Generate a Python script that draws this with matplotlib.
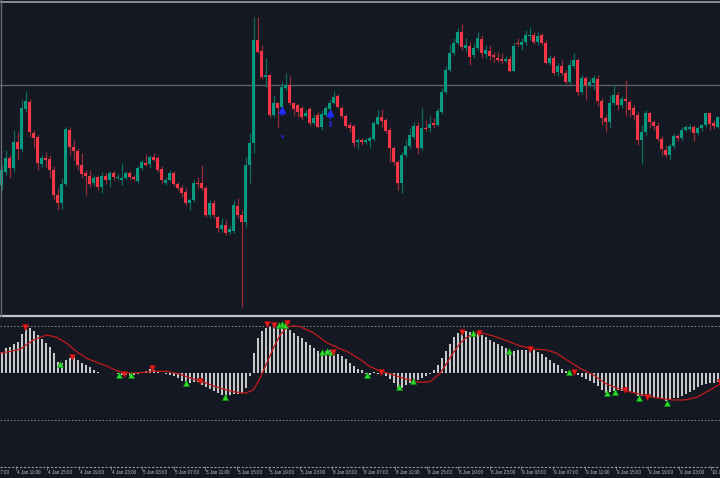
import matplotlib
matplotlib.use("Agg")
import matplotlib.pyplot as plt
from matplotlib.lines import Line2D
import numpy as np

# ---------------- data (price units) ----------------
opens = [135,148,162,152,178,171,211,218,187,183, 156,162,161,150,125,117,136,190,173,169,
         155,147,144,137,143,133,144,140,147,142, 140,142,147,143,139,152,157,156,163,162,
         151,137,140,147,136,132,128,117,120,137, 137,132,105,117,103,91,95,88,89,114,
         105,98,155,177,280,269,243,245,205,217, 213,232,235,217,215,212,204,211,197,205,
         193,205,211,217,224,212,204,195,194,178, 180,178,179,181,196,203,200,190,172,158,
         137,165,174,183,194,172,192,192,197,195, 208,228,250,267,277,288,272,274,265,272,
         281,266,269,265,262,261,259,261,249,277, 275,278,284,285,278,285,277,257,262,248,
         254,247,238,254,260,228,242,235,237,241, 219,202,198,217,225,215,221,218,212,205,
         180,188,207,198,194,181,170,165,174,184, 182,190,191,193,187,192,195,207,197,193,
         194]
closes = [150,162,152,178,171,212,219,188,182,157, 162,160,150,125,117,136,191,173,169,155,
          146,144,136,142,133,144,140,147,143,143, 142,147,143,141,152,158,155,163,160,150,
          140,140,147,136,132,127,117,120,137,136, 132,105,117,105,92,95,87,91,115,105,
          98,155,177,280,268,243,245,205,217,212, 233,235,217,211,208,203,207,197,202,193,
          206,212,217,223,213,204,194,192,177,180, 178,180,182,197,203,199,189,172,158,137,
          165,174,185,194,172,192,191,196,195,209, 228,250,267,277,288,273,275,263,272,282,
          267,270,264,263,260,259,261,249,274,276, 278,285,285,278,284,277,257,262,247,254,
          247,238,255,260,228,242,235,238,242,219, 202,198,217,225,215,221,219,210,205,180,
          188,207,198,194,181,171,165,174,184,182, 190,193,193,187,192,195,207,196,194,203,
          190]
highs = [155,170,165,190,188,220,229,221,190,185, 165,168,165,154,132,142,193,193,180,172,
         167,150,150,145,145,148,147,149,149,146, 157,149,149,145,154,160,166,165,167,164,
         154,143,150,149,138,135,132,122,140,143, 155,134,120,120,105,102,100,95,120,122,
         110,163,187,303,303,275,262,246,225,218, 238,247,244,218,217,214,210,213,206,208,
         210,214,220,229,226,214,206,198,196,182, 182,182,184,199,210,211,202,193,174,160,
         168,180,192,198,198,212,200,204,202,212, 232,254,275,282,292,296,282,278,277,288,
         285,275,275,268,268,267,264,265,278,282, 282,290,293,288,288,287,280,265,265,257,
         260,250,260,267,262,245,244,242,245,245, 222,205,225,235,228,224,240,220,215,208,
         195,210,209,200,198,184,175,177,187,186, 193,195,196,195,194,196,207,208,200,204,
         196]
lows = [130,145,142,148,160,168,208,183,172,150, 153,152,142,120,110,111,134,165,160,150,
        142,125,133,134,130,127,136,133,140,140, 135,140,141,139,137,150,154,152,159,148,
        137,135,139,134,130,123,115,110,118,132, 130,103,102,102,88,88,85,86,87,102,
        13,93,137,167,267,241,233,203,203,193, 210,230,215,205,203,200,203,195,195,192,
        190,204,210,216,212,202,192,188,173,171, 175,176,172,179,195,193,187,158,155,130,
        127,163,172,181,166,170,189,188,192,194, 206,226,248,265,275,270,268,255,262,270,
        262,262,260,258,258,256,258,248,248,274, 270,275,280,276,275,275,256,255,245,244,
        245,236,236,252,225,226,220,233,230,214, 195,188,192,215,210,212,204,203,200,175,
        156,185,192,190,179,165,163,160,172,179, 180,188,189,179,185,189,193,190,191,192,
        188]

level_line = 235

blue_arrow_idx = [70, 82]
blue_arrow_val = [210, 207]
blue_dot_idx = [70, 82, 82]
blue_dot_val = [184, 198, 195]

hist = [21,25,26,29,31,39,44,45,42,38, 34,30,26,20,11,10,13,15,16,13,
        10,8,6,3,1,0.5,0.5,0.5,0.5,-1, -2,-2,-3,-2,-1,1,2,4,3,1,
        0.5,-1,-2,-3,-5,-8,-10,-10,-9,-9, -12,-14,-16,-18,-20,-22,-23,-22,-21,-21,
        -20,-15,-3,20,35,42,45,46,46,47, 47,45,43,40,37,35,31,28,25,22,
        21,22,23,22,19,17,14,10,7,4, 3,-1,-2,1,-1,-1,-3,-6,-10,-15,
        -15,-12,-10,-8,-7,-5,-3,-1,3,8, 15,22,29,36,40,41,42,41,41,40,
        38,36,33,31,29,27,25,22,22,23, 23,23,24,23,21,19,16,13,10,8,
        4,2,1,0.5,-2,-4,-6,-8,-10,-13, -17,-20,-19,-18,-17,-18,-18,-19,-20,-23,
        -23,-23,-24,-25,-25,-26,-28,-27,-25,-25, -23,-21,-19,-17,-14,-12,-11,-10,-10,-9,
        -8]

sig_idx = [-0.4,4.6,7.9,11.25,13.75,16.25,18.75,21.25,23.75,26.25,28.75,31.25,34.6,37.9,41.25,
           44.6,47.9,51.25,54.6,57.9,60.8,62.9,64.6,66.25,67.9,69.6,71.25,72.9,74.6,77.9,
           81.25,83.75,86.25,89.6,92.1,94.6,97.9,101.25,104.6,107.1,109.6,111.25,112.9,114.6,
           116.25,118.3,120.4,122.9,126.25,129.6,133,136.25,138.75,141.25,144.6,147.9,151.25,
           154.6,158,161.25,164.6,167.9,170.8,173.75,177.1,179.6]
sig_val = [19.7,23.7,33,38,35.7,29.7,21.3,14.7,10.7,7,2.3,-0.3,0.3,1.7,1.7,
           -1.3,-6,-10.3,-15.3,-18.7,-20.3,-17,-5.3,9.7,24.7,38,45.7,47.3,46.3,40.3,
           30.3,25.7,21.7,13.7,6.3,2,-2,-6.3,-9.3,-8.7,-0.3,9.7,20.3,29.7,
           35.7,39.7,39.7,37,32.3,27,24,23,19.7,13,4.7,-2,-11,
           -16.3,-19.7,-23,-25.3,-27,-27,-24.3,-17,-11]

green_idx = [14.6,29.2,32.25,46,55.8,69.2,70,70.8,80,81.2,82.2,91.4,99.2,102.9,117.9,126.75,
             141.7,151.25,153.3,159.4,166.25]
green_val = [9,-2,-2,-10.3,-24.3,48,49,48.5,21.3,21.8,21.3,-2,-14.3,-7.7,40.3,22.3,
             0.7,-20.3,-18.7,-25.3,-30.3]
red_idx = [5.8,17.5,30.6,37.5,49.6,66.25,68,71.25,82.9,94.75,115,119.4,132,143,155.8,161.4,179.6]
red_val = [45.7,16.3,-1,4.7,-7.7,49,48,49.7,21.3,1.3,41.3,40.3,23.7,1.3,-17,-24.3,-8.7]
levels = [47, -47]

tick_labels = ["4 Jan 07:00","4 Jan 11:00","4 Jan 15:00","4 Jan 19:00","4 Jan 23:00",
               "5 Jan 03:00","5 Jan 07:00","5 Jan 11:00","5 Jan 15:00","5 Jan 19:00",
               "5 Jan 23:00","8 Jan 03:00","8 Jan 07:00","8 Jan 11:00","8 Jan 15:00",
               "8 Jan 19:00","8 Jan 23:00","9 Jan 03:00","9 Jan 07:00","9 Jan 11:00",
               "9 Jan 15:00","9 Jan 19:00","9 Jan 23:00","10 Jan 03:00"]
tick_pos = [-4.1,3.8,11.7,19.6,27.5,35.4,43.3,51.2,59.1,67.0,74.9,82.8,90.7,98.6,106.5,
            114.4,122.3,130.2,138.1,146.0,153.9,161.8,169.7,177.6]

# ---------------- styling ----------------
BG = '#141822'
UP = '#089981'
DN = '#f23645'
UPW = '#0e6a5a'
DNW = '#9a2c38'

W, H = 720, 478
fig = plt.figure(figsize=(W/100, H/100), dpi=100, facecolor=BG)
ax = fig.add_axes([0, 1 - 316/H, 1, 316/H])
axi = fig.add_axes([0, 12/H, 1, 148/H])
axl = fig.add_axes([0, 0, 1, 12/H])
XL = (-0.425, 179.575)
for a in (ax, axi, axl):
    a.set_xlim(*XL)
    a.axis('off')

# main candles
o = np.array(opens, float); c = np.array(closes, float)
h = np.array(highs, float); l = np.array(lows, float)
x = np.arange(len(o))
up = c >= o
ax.vlines(x[up], l[up], h[up], color=UPW, lw=0.9, zorder=2)
ax.vlines(x[~up], l[~up], h[~up], color=DNW, lw=0.9, zorder=2)
bb = np.minimum(o, c)
bh = np.maximum(np.abs(c - o), 1.2)
ax.bar(x[up], bh[up], bottom=bb[up], width=0.72, color=UP, linewidth=0, zorder=3)
ax.bar(x[~up], bh[~up], bottom=bb[~up], width=0.72, color=DN, linewidth=0, zorder=3)
ax.axhline(level_line, color='#5c6069', lw=1.0, zorder=1)
ax.set_ylim(4, 320)

# blue signals on price chart
for bi, bv in zip(blue_arrow_idx, blue_arrow_val):
    ax.vlines(bi, bv - 6, bv, color='#1f2bff', lw=1.2, zorder=5)
ax.plot(blue_arrow_idx, blue_arrow_val, ls='none', marker='^', ms=4.5,
        color='#1f2bff', zorder=6)
ax.plot(blue_dot_idx, blue_dot_val, ls='none', marker='s', ms=1.2,
        color='#1c24a8', zorder=5)

# indicator panel
axi.bar(np.arange(len(hist)), hist, width=0.5, color='#c8c8c8', linewidth=0, zorder=2)
for lv in levels:
    axi.axhline(lv, color='#8a8e97', lw=0.7, ls=(0, (1.5, 2)), zorder=1)
axi.plot(sig_idx, sig_val, color='#c41a1a', lw=0.9, zorder=3)
axi.plot(green_idx, green_val, ls='none', marker='^', ms=4, color='#2be02b',
         markeredgecolor='#128c12', markeredgewidth=0.5, zorder=4)
axi.plot(red_idx, red_val, ls='none', marker='v', ms=4, color='#ee1c1c',
         markeredgecolor='#9a0e0e', markeredgewidth=0.5, zorder=4)
axi.set_ylim(-93, 55)

# time labels
axl.set_ylim(0, 1)
for tp, tl in zip(tick_pos, tick_labels):
    axl.text(tp, 0.42, tl, fontsize=3.3, color='#c4c4c4', ha='left', va='center',
             clip_on=True, family='Liberation Sans')
    axl.vlines(tp - 0.3, 0.7, 1.0, color='#9a9a9a', lw=0.5, clip_on=True)

# frame lines
def hline(ypx, **kw):
    fig.add_artist(Line2D([0, 1], [1 - ypx/H, 1 - ypx/H], transform=fig.transFigure, **kw))

hline(1.5, color='#9da1a9', lw=1.2)
hline(316.0, color='#c0c4cc', lw=1.6)
hline(466.5, color='#9a9a9a', lw=0.8, ls=(0, (2, 1.5)))
fig.add_artist(Line2D([0.5/W, 0.5/W], [1 - 316/H, 1], transform=fig.transFigure,
                      color='#6a6e76', lw=1.0))

fig.savefig('out.png', dpi=100, facecolor=BG)
